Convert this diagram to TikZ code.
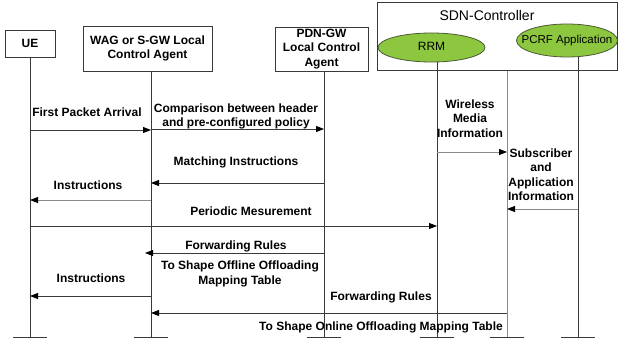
\documentclass[tikz,border=0pt]{standalone}
\usepackage{fontspec}
\setmainfont{Liberation Sans}
\usetikzlibrary{arrows.meta,shapes.geometric}
\definecolor{appgreen}{HTML}{8DC63F}
\definecolor{appedge}{HTML}{4B5A36}
\definecolor{lineg}{HTML}{3A3A3A}
\definecolor{lightg}{HTML}{8A8A8A}

\begin{document}
\begin{tikzpicture}[x=1pt,y=-1pt,
  agent/.style={draw=lineg, line width=0.9pt, align=center, inner sep=0pt,
    font=\fontsize{12}{14.5}\selectfont\bfseries},
  app/.style={ellipse, draw=appedge, fill=appgreen, line width=0.8pt, inner sep=0pt},
  apptext/.style={inner sep=0pt, font=\fontsize{12}{14}\selectfont},
  lifeline/.style={draw=lineg, line width=0.9pt},
  msg/.style={draw=lineg, line width=0.9pt, -{Triangle[length=8pt,width=6pt,color=black]}},
  lbl/.style={align=center, inner sep=0pt, font=\fontsize{12}{14.5}\selectfont\bfseries},
  foot/.style={draw=lineg, line width=0.9pt}]

\useasboundingbox (0,0) rectangle (618,345);

% participants
\node[agent, minimum width=50, minimum height=27] (ue) at (30,43.5) {UE};
\node[agent, minimum width=129, minimum height=45] (wag) at (147.5,48.5) {WAG or S-GW Local\\Control Agent};
\node[agent, minimum width=93, minimum height=44] (pdn) at (321.5,49) {PDN-GW\\Local Control\\Agent};

% SDN controller with its applications
\node[draw=lineg, line width=0.9pt, minimum width=240, minimum height=68, anchor=north west, inner sep=0pt] (sdn) at (377,2) {};
\node[inner sep=0pt, font=\fontsize{14}{16}\selectfont] (sdnTitle) at (487,15) {SDN-Controller};
\node[app, minimum width=107, minimum height=29] (rrm) at (431.5,47.5) {};
\node[apptext] (rrmText) at (431.5,46) {RRM};
\node[app, minimum width=101, minimum height=33] (pcrf) at (567,40.5) {};
\node[apptext, font=\fontsize{11.5}{14}\selectfont] (pcrfText) at (pcrf) {PCRF Application};

% lifeline ends
\coordinate (ueB) at (30,337);
\coordinate (wagB) at (151,337);
\coordinate (pdnB) at (324,337);
\coordinate (rrmB) at (437,337);
\coordinate (sdnB) at (507,337);
\coordinate (pcrfB) at (578,337);

% lifelines
\draw[lifeline] (ue.south) -- (ueB);
\draw[lifeline] (wag.south -| wagB) -- (wagB);
\draw[lifeline] (pdn.south -| pdnB) -- (pdnB);
\draw[lifeline] (rrm.south -| rrmB) -- (rrmB);
\draw[lifeline, draw=lightg] (sdn.south -| sdnB) -- (sdnB);
\draw[lifeline] (pcrf.south -| pcrfB) -- (pcrfB);

% feet
\foreach \p in {ueB,wagB,pdnB,rrmB,sdnB,pcrfB}
  \draw[foot] ([xshift=-17pt]\p) -- ([xshift=17pt]\p);

% messages
\draw[msg] (ueB |- 0,130) -- (wagB |- 0,130);
\node[lbl] (l1) at (87,112) {First Packet Arrival};

\draw[msg] (wagB |- 0,129) -- (pdnB |- 0,129);
\node[lbl] (l2) at (236,116.5) {Comparison between header\\and pre-configured policy};

\draw[msg] (pdnB |- 0,183) -- (wagB |- 0,183);
\node[lbl] (l3) at (236,162) {Matching Instructions};

\draw[msg, draw=lightg] (wagB |- 0,200) -- (ueB |- 0,200);
\node[lbl] (l4) at (88,185) {Instructions};

\draw[msg] (ueB |- 0,226) -- (rrmB |- 0,226);
\node[lbl] (l5) at (251,211) {Periodic Mesurement};

\draw[msg, draw=lightg] (rrmB |- 0,152) -- (sdnB |- 0,152);
\node[lbl] (l6) at (470,118.5) {Wireless\\Media\\Information};

\draw[msg, draw=lightg] (pcrfB |- 0,209) -- (sdnB |- 0,209);
\node[lbl] (l7) at (541,174.5) {Subscriber\\and\\Application\\Information};

\draw[msg, shorten >=-6pt] (pdnB |- 0,253) -- (wagB |- 0,253);
\node[lbl] (l8) at (236,246) {Forwarding Rules};
\node[lbl] (l9) at (240,274) {To Shape Offline Offloading\\Mapping Table};

\draw[msg] (wagB |- 0,296) -- (ueB |- 0,296);
\node[lbl] (l10) at (91,278) {Instructions};

\draw[msg] (sdnB |- 0,313) -- (wagB |- 0,313);
\node[lbl] (l11) at (381,297) {Forwarding Rules};
\node[lbl] (l12) at (381,327) {To Shape Online Offloading Mapping Table};

\end{tikzpicture}
\end{document}
